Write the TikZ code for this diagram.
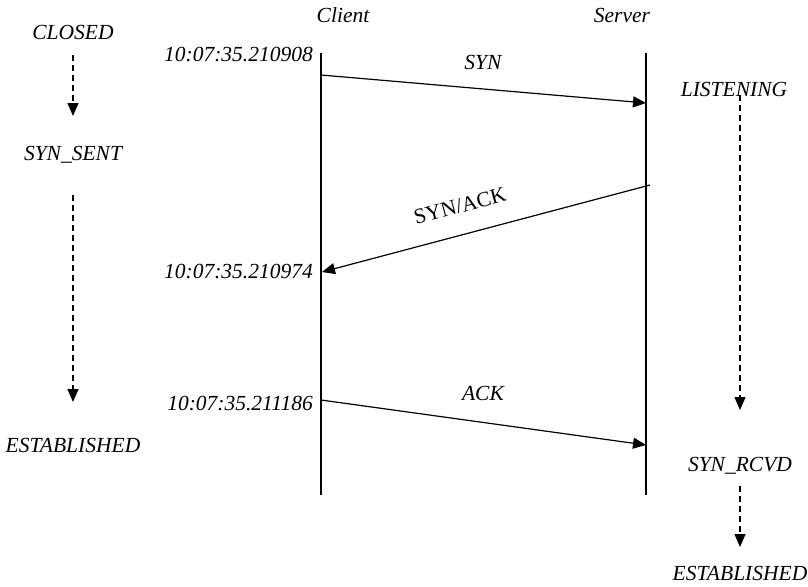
\documentclass[tikz,border=0pt]{standalone}
\usepackage{fontspec}
\setmainfont{Liberation Serif}
\usetikzlibrary{arrows.meta}
\begin{document}
\begin{tikzpicture}[x=1pt,y=-1pt,
  lbl/.style={font=\fontsize{21.5}{25}\selectfont\itshape, inner sep=0pt},
  life/.style={line width=1.2pt},
  msg/.style={line width=1.2pt, -{Triangle[length=13pt,width=11pt]}},
  st/.style={line width=1.2pt, dash pattern=on 6pt off 4pt, -{Triangle[length=13pt,width=11pt]}}]
\useasboundingbox (0,0) rectangle (808,586);
% lifelines
\coordinate (ct) at (321,53); \coordinate (cb) at (321,495);
\coordinate (stp) at (646,53); \coordinate (sb) at (646,495);
\draw[life] (ct) -- (cb);
\draw[life] (stp) -- (sb);
\node[lbl] (client) at (343,15) {Client};
\node[lbl] (server) at (622,15) {Server};
% client states
\node[lbl] (closed) at (73,32) {CLOSED};
\node[lbl] (synsent) at (73,155) {SYN\_SENT};
\node[lbl] (estc) at (73,445) {ESTABLISHED};
\coordinate (a1s) at (73,55); \coordinate (a1e) at (73,116);
\coordinate (a2s) at (73,195); \coordinate (a2e) at (73,402);
\draw[st] (a1s) -- (a1e);
\draw[st] (a2s) -- (a2e);
% server states
\node[lbl] (listen) at (734,89) {LISTENING};
\node[lbl] (synrcvd) at (740,466) {SYN\_RCVD};
\node[lbl] (ests) at (740,573) {ESTABLISHED};
\coordinate (b1s) at (740,95); \coordinate (b1e) at (740,410);
\coordinate (b2s) at (740,486); \coordinate (b2e) at (740,547);
\draw[st] (b1s) -- (b1e);
\draw[st] (b2s) -- (b2e);
% timestamps
\node[lbl, anchor=east] (t1) at (313,55) {10:07:35.210908};
\node[lbl, anchor=east] (t2) at (313,271) {10:07:35.210974};
\node[lbl, anchor=east] (t3) at (313,403) {10:07:35.211186};
% messages
\coordinate (m1s) at (321,75); \coordinate (m1e) at (646,103);
\coordinate (m2s) at (650,185); \coordinate (m2e) at (322,272);
\coordinate (m3s) at (321,400); \coordinate (m3e) at (646,445);
\draw[msg] (m1s) -- (m1e);
\draw[msg] (m2s) -- (m2e);
\draw[msg] (m3s) -- (m3e);
\node[lbl] (syn) at (483,62) {SYN};
\node[font=\fontsize{21.5}{25}\selectfont, inner sep=0pt, rotate=15] (synack) at (460,206) {SYN/ACK};
\node[lbl] (ack) at (483,393) {ACK};
\end{tikzpicture}
\end{document}
